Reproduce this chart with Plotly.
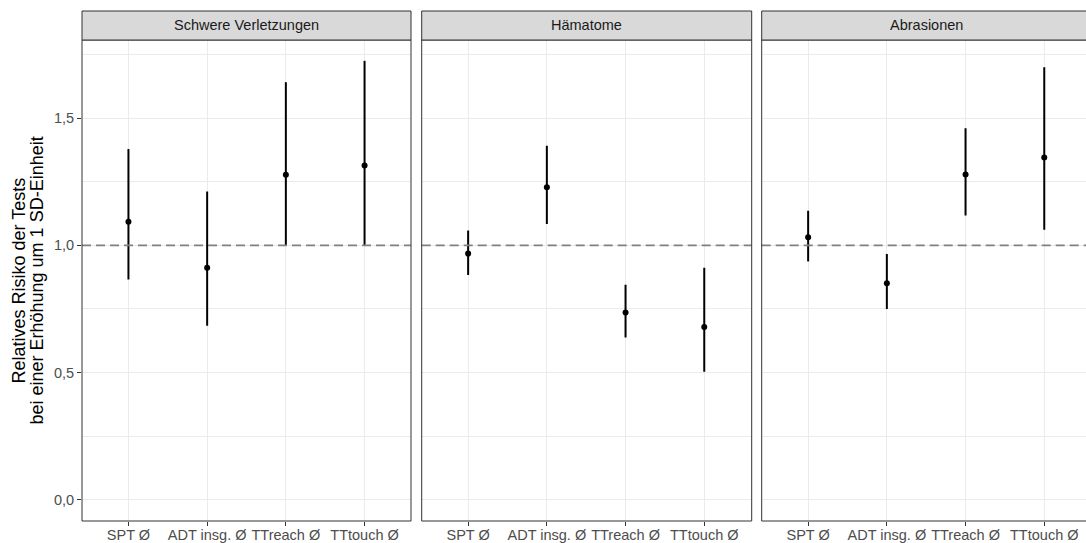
import plotly.graph_objects as go

# ---- data ----
categories = ["SPT Ø", "ADT insg. Ø", "TTreach Ø", "TTtouch Ø"]
panels = ["Schwere Verletzungen", "Hämatome", "Abrasionen"]

est_schwere = [1.093, 0.912, 1.278, 1.314]
low_schwere = [0.866, 0.684, 1.000, 1.002]
up_schwere = [1.379, 1.212, 1.642, 1.726]

est_haem = [0.968, 1.229, 0.736, 0.679]
low_haem = [0.884, 1.084, 0.638, 0.503]
up_haem = [1.059, 1.392, 0.845, 0.912]

est_abr = [1.032, 0.851, 1.279, 1.346]
low_abr = [0.937, 0.750, 1.118, 1.062]
up_abr = [1.136, 0.966, 1.461, 1.701]

y_ticks = [0.0, 0.5, 1.0, 1.5]
y_ticktext = ["0,0", "0,5", "1,0", "1,5"]
ref_line = 1.0
y_title_lines = ["Relatives Risiko der Tests", "bei einer Erhöhung um 1 SD-Einheit"]

series = [
    (est_schwere, low_schwere, up_schwere),
    (est_haem, low_haem, up_haem),
    (est_abr, low_abr, up_abr),
]

# ---- layout geometry ----
W, H = 1086, 543
ML, MR, MT, MB = 82, 0, 40, 22
PW = W - ML - MR
PH = H - MT - MB
panel_px = [(82, 411), (421.7, 751.7), (761.7, 1086)]
full_panel_w = 329
domains = [((a - ML) / PW, (b - ML) / PW) for a, b in panel_px]
unit_px = full_panel_w / 4.18
y_range = [-0.084, 1.808]

FONT = "Liberation Sans, Arial, sans-serif"
GRID = "#EBEBEB"
BORDER = "#333333"
TICKTXT = "#4D4D4D"

fig = go.Figure()
layout = dict(
    width=W, height=H,
    margin=dict(l=ML, r=MR, t=MT, b=MB),
    paper_bgcolor="white", plot_bgcolor="white",
    showlegend=False,
    font=dict(family=FONT),
    shapes=[], annotations=[],
)

for i, (est, low, up) in enumerate(series):
    xa = "x" if i == 0 else f"x{i+1}"
    ya = "y" if i == 0 else f"y{i+1}"
    fig.add_trace(go.Scatter(
        x=categories, y=est, xaxis=xa, yaxis=ya, mode="markers",
        marker=dict(color="black", size=6),
        error_y=dict(type="data", symmetric=False,
                     array=[u - e for u, e in zip(up, est)],
                     arrayminus=[e - l for e, l in zip(est, low)],
                     width=0, thickness=2, color="black"),
        hoverinfo="skip",
    ))
    d0, d1 = domains[i]
    width_px = (d1 - d0) * PW
    xname = "xaxis" if i == 0 else f"xaxis{i+1}"
    yname = "yaxis" if i == 0 else f"yaxis{i+1}"
    layout[xname] = dict(
        domain=[d0, d1], anchor=ya, type="category",
        categoryorder="array", categoryarray=categories,
        range=[-0.59, -0.59 + width_px / unit_px],
        showgrid=True, gridcolor=GRID, gridwidth=1,
        showline=False, zeroline=False,
        ticks="outside", ticklen=4, tickwidth=1, tickcolor=BORDER,
        ticklabelstandoff=-3,
        tickfont=dict(size=14.5, color=TICKTXT, family=FONT),
        fixedrange=True, automargin=False,
    )
    layout[yname] = dict(
        domain=[0, 1], anchor=xa, range=y_range,
        tickvals=y_ticks, ticktext=y_ticktext,
        showticklabels=(i == 0),
        ticks="outside" if i == 0 else "", ticklen=4, tickwidth=1, tickcolor=BORDER,
        tickfont=dict(size=14.5, color=TICKTXT, family=FONT),
        showgrid=True, gridcolor=GRID, gridwidth=1,
        minor=dict(dtick=0.25, tick0=0, showgrid=True, gridcolor=GRID, gridwidth=0.6, ticks=""),
        showline=False, zeroline=False, fixedrange=True, automargin=False,
    )
    # reference line
    layout["shapes"].append(dict(
        type="line", xref="paper", x0=d0, x1=d1, yref=ya, y0=ref_line, y1=ref_line,
        line=dict(color="#808080", width=1.8, dash="9px,5px"), layer="above",
    ))
    extra = 0.01 if i == 2 else 0
    # panel border
    layout["shapes"].append(dict(
        type="rect", xref="paper", yref="paper", x0=d0, x1=d1 + extra, y0=0, y1=1,
        line=dict(color=BORDER, width=1), layer="above",
    ))
    # strip
    s_top = 1 + (MT - 11) / PH
    layout["shapes"].append(dict(
        type="rect", xref="paper", yref="paper", x0=d0, x1=d1 + extra, y0=1, y1=s_top,
        line=dict(color=BORDER, width=1), fillcolor="#D9D9D9", layer="above",
    ))
    layout["annotations"].append(dict(
        text=panels[i], xref="paper", yref="paper",
        x=d0 + full_panel_w / PW / 2,
        y=(1 + s_top) / 2, xanchor="center", yanchor="middle", showarrow=False,
        font=dict(size=14.5, color="#1A1A1A", family=FONT),
    ))

for line, px in zip(y_title_lines, [18, 36]):
    layout["annotations"].append(dict(
        text=line, xref="paper", yref="paper", x=(px - ML) / PW, y=0.5,
        xanchor="center", yanchor="middle", textangle=-90, showarrow=False,
        font=dict(size=18, color="black", family=FONT),
    ))

fig.update_layout(**layout)
fig.write_html("out.html", config={"displayModeBar": False},
               post_script="document.body.style.margin='0';document.body.style.overflow='hidden';")
